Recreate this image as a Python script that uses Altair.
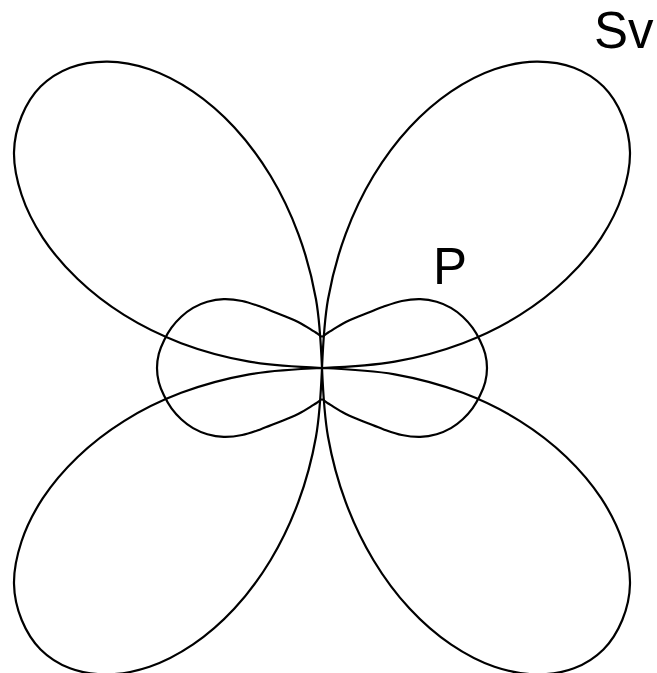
import altair as alt
import pandas as pd

# Radiation pattern amplitudes for one quadrant (angle measured from the horizontal, degrees)
angles = [0, 5, 10, 15, 20, 25, 30, 35, 40, 45, 50, 55, 60, 65, 70, 75, 80, 85, 90]
sv_radius = [0, 73, 143, 205, 260, 308, 347, 376, 392, 398, 392, 374, 345, 305, 256, 199, 136, 69, 0]
p_radius = [165, 163.8, 160.3, 155.8, 149.8, 142.3, 132.4, 120, 104.2, 86.5, 72.5, 62.5, 55, 48.8, 43.5, 39.2, 36, 33.3, 31]

labels = ["Sv", "P"]

# Unfold the quadrant into full lobes using the pattern's symmetry
rows = []
q = dict(zip(angles, zip(sv_radius, p_radius)))


def r_at(a, idx):
    a = a % 360
    if a <= 90:
        b = a
    elif a <= 180:
        b = 180 - a
    elif a <= 270:
        b = a - 180
    else:
        b = 360 - a
    return q[b][idx]


# four Sv lobes, each spanning one quadrant
for lobe, start in enumerate([0, 90, 180, 270]):
    for i, a in enumerate(range(start, start + 91, 5)):
        rows.append({"curve": f"Sv{lobe}", "order": i, "angle": a, "r": r_at(a, 0)})
# two P lobes, right and left, meeting at cusps on the vertical axis
for lobe, start in enumerate([-90, 90]):
    for i, a in enumerate(range(start, start + 181, 5)):
        rows.append({"curve": f"P{lobe}", "order": i, "angle": a, "r": r_at(a, 1)})

df = pd.DataFrame(rows)

W, H = 657, 673
cx, cy = 322, 368
xscale = alt.Scale(domain=[-cx, W - cx], nice=False, zero=False)
yscale = alt.Scale(domain=[-(H - cy), cy], nice=False, zero=False)

lines = (
    alt.Chart(df)
    .transform_calculate(
        px="datum.r * cos(datum.angle * PI / 180)",
        py="datum.r * sin(datum.angle * PI / 180)",
    )
    .mark_line(color="black", strokeWidth=2.2, interpolate="catmull-rom")
    .encode(
        x=alt.X("px:Q", scale=xscale, axis=None),
        y=alt.Y("py:Q", scale=yscale, axis=None),
        detail="curve:N",
        order="order:Q",
    )
)

text_style = dict(font="Liberation Sans", fontSize=51, color="black",
                  align="left", baseline="alphabetic")

sv_text = (
    alt.Chart(pd.DataFrame({"label": [labels[0]]}))
    .mark_text(**text_style)
    .encode(x=alt.datum(272, scale=xscale), y=alt.datum(320, scale=yscale), text="label:N")
)
p_text = (
    alt.Chart(pd.DataFrame({"label": [labels[1]]}))
    .mark_text(**text_style)
    .encode(x=alt.datum(111, scale=xscale), y=alt.datum(84, scale=yscale), text="label:N")
)

chart = (
    alt.layer(lines, sv_text, p_text)
    .properties(width=W, height=H, padding=0, autosize=alt.AutoSizeParams(type="none"),
                background="white")
    .configure_view(stroke=None)
)

chart.save("out.html", embed_options={"renderer": "svg", "actions": False})
